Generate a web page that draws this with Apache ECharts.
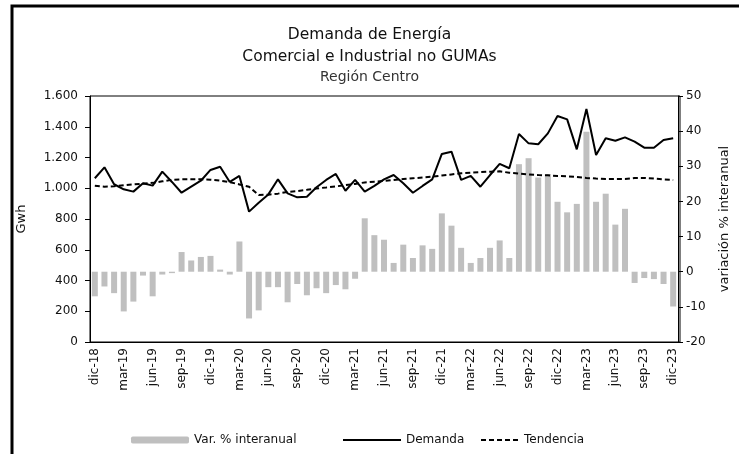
<!DOCTYPE html>
<html lang="es">
<head>
  <meta charset="UTF-8">
  <title>Demanda de Energía</title>
  <script src="https://cdnjs.cloudflare.com/ajax/libs/echarts/6.0.0/echarts.min.js"></script>
  <style>html,body{margin:0;padding:0;background:#fff;}</style>
</head>
<body>
  <div id="main" style="width: 739px;height:454px;"></div>
<script type="text/javascript">
  // meses dic-18 .. dic-23
  var meses = ['ene', 'feb', 'mar', 'abr', 'may', 'jun', 'jul', 'ago', 'sep', 'oct', 'nov', 'dic'];
  var categorias = ['dic-18'];
  for (var a = 19; a <= 23; a++) {
    for (var m = 0; m < 12; m++) categorias.push(meses[m] + '-' + a);
  }

  var demanda = [
    1065, 1136, 1026, 993, 978, 1032, 1017, 1108, 1041, 971, 1010, 1049,
    1119, 1140, 1041, 1080, 848, 906, 960, 1058, 967, 941, 945, 1006,
    1054, 1093, 984, 1054, 978, 1015, 1058, 1086, 1032, 971, 1015, 1058,
    1223, 1238, 1054, 1080, 1010, 1086, 1158, 1130, 1353, 1292, 1286, 1357,
    1470, 1448, 1253, 1515, 1216, 1325, 1309, 1331, 1303, 1264, 1264, 1314, 1325
  ];

  var tendencia = [
    1017, 1010, 1013, 1020, 1025, 1030, 1035, 1045, 1055, 1058, 1058, 1058,
    1056, 1050, 1040, 1025, 1010, 956, 958, 965, 976, 982, 990, 999,
    1005, 1012, 1020, 1028, 1038, 1043, 1048, 1054, 1060, 1065, 1070, 1075,
    1083, 1090, 1097, 1101, 1105, 1108, 1110, 1101, 1096, 1090, 1086, 1084,
    1080, 1078, 1073, 1067, 1063, 1060, 1060, 1060, 1067, 1067, 1063, 1058, 1054
  ];

  var variacion = [
    -7.0, -4.2, -6.1, -11.3, -8.5, -1.1, -7.0, -0.8, -0.4, 5.6, 3.2, 4.2,
    4.5, 0.6, -0.8, 8.6, -13.3, -11.0, -4.4, -4.4, -8.7, -3.5, -6.7, -4.7,
    -6.1, -3.8, -5.0, -2.0, 15.2, 10.4, 9.1, 2.5, 7.7, 3.9, 7.5, 6.5,
    16.6, 13.1, 6.8, 2.5, 3.9, 6.8, 8.9, 3.9, 30.6, 32.3, 26.8, 27.8,
    19.9, 16.9, 19.3, 39.8, 19.9, 22.2, 13.4, 17.9, -3.2, -1.8, -2.1, -3.5, -9.9
  ];

  var fuente = '"DejaVu Sans", sans-serif';
  var tinta = '#111';
  var app = echarts.init(document.getElementById('main'));

  var option = {
    animation: false,
    textStyle: { fontFamily: fuente, color: tinta },
    title: [
      {
        text: 'Demanda de Energía\nComercial e Industrial no GUMAs',
        left: 'center', top: 19,
        textStyle: { fontSize: 15.5, fontWeight: 'normal', color: tinta, lineHeight: 22, fontFamily: fuente }
      },
      {
        text: 'Región Centro',
        left: 'center', top: 65,
        textStyle: { fontSize: 14, fontWeight: 'normal', color: '#333', fontFamily: fuente }
      }
    ],
    graphic: [
      {
        type: 'polyline',
        shape: { points: [[12, 460], [12, 6], [745, 6]] },
        style: { stroke: '#000', lineWidth: 3, fill: null }
      },
      {
        type: 'rect',
        shape: { x: 90, y: 96, width: 590, height: 246 },
        style: { stroke: '#000', lineWidth: 1, fill: null },
        silent: true
      }
    ],
    legend: [
      {
        data: ['Var. % interanual'], left: 126, top: 429,
        itemWidth: 58, itemHeight: 7, itemGap: 6,
        textStyle: { fontSize: 12, color: tinta, fontFamily: fuente }
      },
      {
        data: ['Demanda'], left: 337, top: 429,
        itemWidth: 58, itemHeight: 10,
        itemStyle: { opacity: 0 },
        textStyle: { fontSize: 12, color: tinta, fontFamily: fuente }
      },
      {
        data: ['Tendencia'], left: 475, top: 429,
        itemWidth: 38, itemHeight: 10,
        itemStyle: { opacity: 0 },
        textStyle: { fontSize: 12, color: tinta, fontFamily: fuente }
      }
    ],
    grid: { left: 90, right: 59, top: 96, bottom: 112, containLabel: false },
    xAxis: {
      type: 'category',
      data: categorias,
      boundaryGap: true,
      axisLine: { lineStyle: { color: '#000', width: 1 } },
      axisTick: { interval: 2, length: 5, lineStyle: { color: '#000' } },
      axisLabel: { interval: 2, rotate: 90, fontSize: 12, color: tinta, margin: 6, fontFamily: fuente },
      splitLine: { show: false }
    },
    yAxis: [
      {
        type: 'value', min: 0, max: 1600, interval: 200,
        name: 'Gwh', nameLocation: 'middle', nameGap: 62, nameRotate: 90,
        nameTextStyle: { fontSize: 13, color: tinta, fontFamily: fuente },
        axisLine: { show: true, lineStyle: { color: '#000' } },
        axisTick: { show: true, length: 5, lineStyle: { color: '#000' } },
        axisLabel: {
          fontSize: 12, color: tinta, margin: 12, fontFamily: fuente,
          formatter: function (v) { return String(v).replace(/\B(?=(\d{3})+(?!\d))/g, '.'); }
        },
        splitLine: { show: false }
      },
      {
        type: 'value', min: -20, max: 50, interval: 10,
        name: 'variación % interanual', nameLocation: 'middle', nameGap: 40, nameRotate: 90,
        nameTextStyle: { fontSize: 13, color: tinta, fontFamily: fuente },
        axisLine: { show: true, lineStyle: { color: '#000' } },
        axisTick: { show: true, length: 5, lineStyle: { color: '#000' } },
        axisLabel: { fontSize: 12, color: tinta, margin: 8, fontFamily: fuente },
        splitLine: { show: false }
      }
    ],
    series: [
      {
        name: 'Var. % interanual', type: 'bar', yAxisIndex: 1,
        data: variacion, barWidth: 6,
        itemStyle: { color: '#bfbfbf' }
      },
      {
        name: 'Demanda', type: 'line', yAxisIndex: 0,
        data: demanda, symbol: 'none',
        lineStyle: { color: '#000', width: 2 }, itemStyle: { color: '#000' }
      },
      {
        name: 'Tendencia', type: 'line', yAxisIndex: 0,
        data: tendencia, symbol: 'none',
        lineStyle: { color: '#000', width: 2, type: [5, 3] }, itemStyle: { color: '#000' }
      }
    ]
  };

  app.setOption(option);
</script>
</body>
</html>
